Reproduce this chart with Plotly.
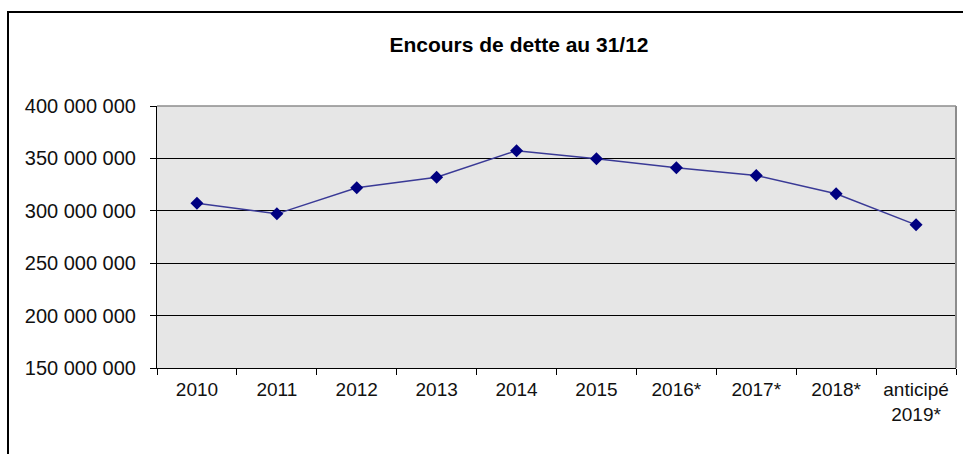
import plotly.graph_objects as go

categories = ["2010", "2011", "2012", "2013", "2014", "2015", "2016*", "2017*", "2018*", "anticipé<br>2019*"]
encours = [307300000, 297100000, 322000000, 332100000, 357400000, 349700000, 341100000, 333700000, 316200000, 286600000]
y_ticks = [150000000, 200000000, 250000000, 300000000, 350000000, 400000000]
y_ticktext = ["150 000 000", "200 000 000", "250 000 000", "300 000 000", "350 000 000", "400 000 000"]

W, H = 963, 454
L, R, T, B = 157, 956, 106, 368

fig = go.Figure()
fig.add_trace(go.Scatter(
    x=categories, y=encours, mode="lines+markers",
    line=dict(color="#3a3a96", width=1.5),
    marker=dict(symbol="diamond", size=10, color="#000080"),
    showlegend=False, cliponaxis=False,
))

def px_x(p):
    return (p - L) / (R - L)

def px_y(p):
    return (B - p) / (B - T)

fig.update_layout(
    width=W, height=H,
    margin=dict(l=L, r=W - R, t=T, b=H - B, pad=0),
    paper_bgcolor="white",
    plot_bgcolor="#e6e6e6",
    font=dict(family="Liberation Sans, Arial, sans-serif", size=20, color="#111111"),
    title=dict(text="<b>Encours de dette au 31/12</b>", font=dict(size=21, color="#000000"),
               x=px_x(519), xref="paper", xanchor="center",
               y=1 - 45 / H, yref="container", yanchor="middle"),
    xaxis=dict(type="category", tickson="boundaries", ticks="outside", ticklen=6,
               tickcolor="black", tickwidth=1, showline=True, linecolor="black", linewidth=1,
               showgrid=False, zeroline=False, mirror=False, range=[-0.5, len(categories) - 0.5],
               ticklabelstandoff=4, tickfont=dict(size=19, color="#111111")),
    yaxis=dict(range=[150000000, 400000000], tickvals=y_ticks, ticktext=y_ticktext,
               ticks="outside", ticklen=6, tickcolor="black", tickwidth=1,
               showline=True, linecolor="black", linewidth=1,
               showgrid=True, gridcolor="black", gridwidth=1, zeroline=False,
               ticklabelstandoff=10, tickfont=dict(size=20, color="#111111")),
    shapes=[
        # outer frame
        dict(type="rect", xref="paper", yref="paper",
             x0=px_x(8), x1=px_x(975), y0=px_y(470), y1=px_y(12),
             line=dict(color="black", width=2), fillcolor="rgba(0,0,0,0)", layer="below"),
        # plot area top & right border (gray)
        dict(type="line", xref="paper", yref="paper", x0=0, x1=1, y0=1, y1=1,
             line=dict(color="#8c8c8c", width=1.5)),
        dict(type="line", xref="paper", yref="paper", x0=1, x1=1, y0=0, y1=1,
             line=dict(color="#8c8c8c", width=2)),
    ],
)

fig.write_html("out.html", config={"displayModeBar": False},
               post_script="document.body.style.margin='0';document.body.style.overflow='hidden';")
